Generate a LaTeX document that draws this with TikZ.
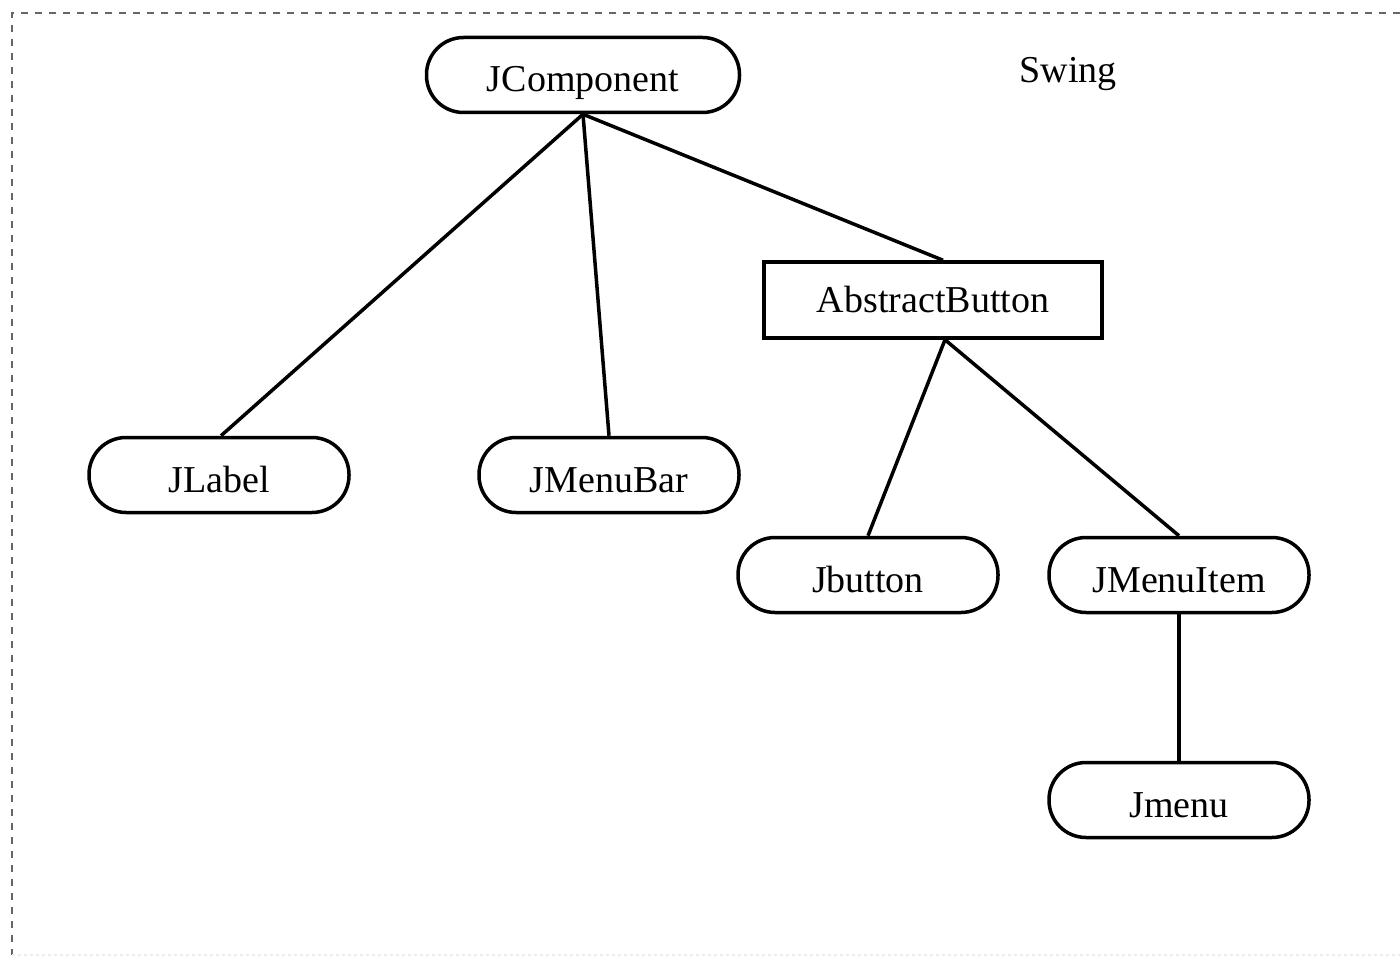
\documentclass[tikz,border=0pt]{standalone}
\usepackage{fontspec}
\setmainfont{Liberation Serif}
\begin{document}
\begin{tikzpicture}[x=1pt,y=-1pt,
  lbl/.style={font=\fontsize{38}{40}\selectfont},
  stad/.style={lbl,draw=black,line width=3.5pt,rounded corners=37pt,minimum width=260pt,minimum height=75pt,inner sep=0pt,text height=34pt,text depth=0pt},
  boxnode/.style={lbl,draw=black,line width=3.5pt,minimum width=338pt,minimum height=76pt,inner sep=0pt,text height=24pt,text depth=0pt},
  conn/.style={line width=3.5pt,draw=black}]
\useasboundingbox (0,0) rectangle (1400,960);
\draw[gray!80!black,line width=2.5pt,dash pattern=on 7pt off 7pt] (1400,13) -- (12,13) -- (12,955);
\draw[gray!15,line width=1.5pt,dash pattern=on 3pt off 3pt] (12,955) -- (1400,955);
\node[stad,minimum width=313pt] (jc) at (583,75) {JComponent};
\node[lbl,anchor=base] (sw) at (1068,83) {Swing};
\node[boxnode] (ab) at (933,300) {AbstractButton};
\node[stad] (jl) at (219,475) {JLabel};
\node[stad] (jmb) at (609,475) {JMenuBar};
\node[stad] (jb) at (868,575) {Jbutton};
\node[stad] (jmi) at (1179,575) {JMenuItem};
\node[stad] (jm) at (1179,800) {Jmenu};
\draw[conn] (jc.south) -- ([xshift=2pt]jl.north);
\draw[conn] (jc.south) -- (jmb.north);
\draw[conn] (jc.south) -- ([xshift=10pt]ab.north);
\draw[conn] ([xshift=12pt]ab.south) -- (jb.north);
\draw[conn] ([xshift=12pt]ab.south) -- (jmi.north);
\draw[conn] (jmi.south) -- (jm.north);
\end{tikzpicture}
\end{document}
